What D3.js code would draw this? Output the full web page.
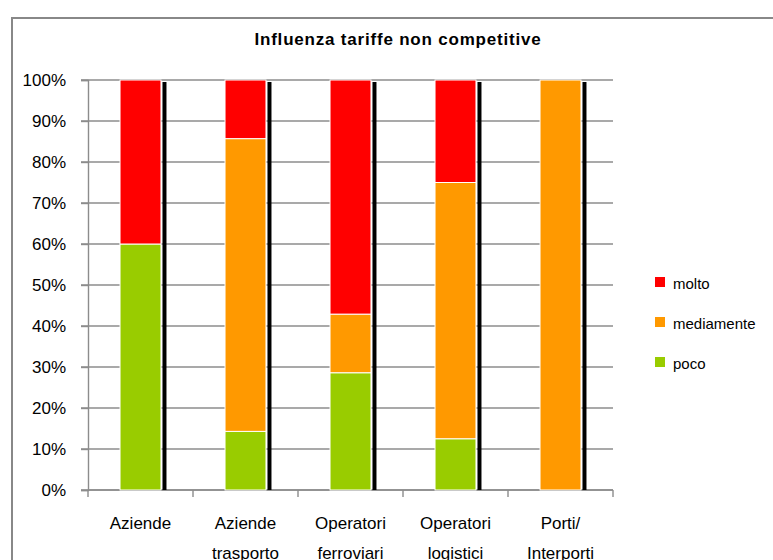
<!DOCTYPE html>
<html>
<head>
<meta charset="utf-8">
<script src="https://cdn.jsdelivr.net/npm/d3@7"></script>
<style>
  body { margin: 0; background: #fff; }
  text { font-family: "Liberation Sans", Arial, sans-serif; fill: #000; }
</style>
</head>
<body>
<div id="container"></div>
<script>
// data
var categories = [["Aziende"], ["Aziende", "trasporto"], ["Operatori", "ferroviari"], ["Operatori", "logistici"], ["Porti/", "Interporti"]];
var seriesNames = ["poco", "mediamente", "molto"];
var poco = [60, 14.3, 28.6, 12.5, 0];
var mediamente = [0, 71.4, 14.3, 62.5, 100];
var molto = [40, 14.3, 57.1, 25, 0];
var colors = ["#99cc00", "#ff9900", "#ff0000"];
var yTicks = [0, 10, 20, 30, 40, 50, 60, 70, 80, 90, 100];

var W = 773, H = 560;
var svg = d3.select("#container").append("svg")
	.attr("width", W)
	.attr("height", H);

// outer frame
svg.append("rect")
	.attr("x", 12).attr("y", 18)
	.attr("width", 800).attr("height", 600)
	.attr("fill", "none")
	.attr("stroke", "#888")
	.attr("stroke-width", 2);

// title
svg.append("text")
	.attr("x", 398).attr("y", 45)
	.attr("text-anchor", "middle")
	.style("font-size", "17px")
	.style("font-weight", "bold")
	.style("letter-spacing", "0.8px")
	.text("Influenza tariffe non competitive");

// scales
var x = d3.scaleBand()
	.domain(d3.range(categories.length))
	.range([88, 613]);

var y = d3.scaleLinear()
	.domain([0, 100])
	.range([490, 80]);

// gridlines
svg.append("g")
	.selectAll("line")
	.data(yTicks)
	.enter().append("line")
	.attr("x1", 81).attr("x2", 613)
	.attr("y1", function(d) { return y(d); })
	.attr("y2", function(d) { return y(d); })
	.attr("stroke", "#8c8c8c")
	.attr("stroke-width", 1.4);

// y axis
var yAxis = svg.append("g")
	.attr("transform", "translate(88,0)")
	.call(d3.axisLeft(y).tickValues(yTicks).tickSize(7).tickPadding(15)
		.tickFormat(function(d) { return d + "%"; }));
yAxis.select(".domain").attr("stroke", "#8c8c8c").attr("stroke-width", 1.4);
yAxis.selectAll(".tick line").attr("stroke", "#8c8c8c").attr("stroke-width", 1.4);
yAxis.selectAll("text")
	.style("font-size", "17px")
	.style("font-family", "'Liberation Sans', Arial, sans-serif");

// x axis
var xTickPos = d3.range(categories.length + 1).map(function(i) { return 88 + i * x.step(); });
var xAxis = svg.append("g");
xAxis.append("line")
	.attr("x1", 88).attr("x2", 613)
	.attr("y1", y(0)).attr("y2", y(0))
	.attr("stroke", "#8c8c8c").attr("stroke-width", 1.4);
xAxis.selectAll(".xt")
	.data(xTickPos)
	.enter().append("line")
	.attr("class", "xt")
	.attr("x1", function(d) { return d; })
	.attr("x2", function(d) { return d; })
	.attr("y1", y(0)).attr("y2", y(0) + 7)
	.attr("stroke", "#8c8c8c").attr("stroke-width", 1.4);

// category labels
var labels = svg.append("g").selectAll("text")
	.data(categories)
	.enter().append("text")
	.attr("x", function(d, i) { return x(i) + x.bandwidth() / 2; })
	.attr("y", 529)
	.attr("text-anchor", "middle")
	.style("font-size", "17px");
labels.selectAll("tspan")
	.data(function(d) { return d; })
	.enter().append("tspan")
	.attr("x", function() { return d3.select(this.parentNode).attr("x"); })
	.attr("dy", function(d, i) { return i === 0 ? 0 : 30; })
	.text(function(d) { return d; });

// stacked data
var table = categories.map(function(c, i) {
	return { i: i, poco: poco[i], mediamente: mediamente[i], molto: molto[i] };
});
var stack = d3.stack().keys(seriesNames)(table);

var barW = x.bandwidth() * 0.39;
function barX(i) { return x(i) + (x.bandwidth() - barW) / 2; }

// shadows
svg.append("g").selectAll("rect")
	.data(table)
	.enter().append("rect")
	.attr("x", function(d) { return barX(d.i) + barW + 1.5; })
	.attr("y", function(d) { return y(100) + 2; })
	.attr("width", 4)
	.attr("height", function(d) { return y(0) - y(100) - 2; })
	.attr("fill", "#000");

// bars
svg.append("g").selectAll("g")
	.data(stack)
	.enter().append("g")
	.attr("fill", function(d, k) { return colors[k]; })
	.selectAll("rect")
	.data(function(d) { return d.filter(function(s) { return s[1] - s[0] > 0; }); })
	.enter().append("rect")
	.attr("x", function(d) { return barX(d.data.i); })
	.attr("y", function(d) { return y(d[1]); })
	.attr("width", barW)
	.attr("height", function(d) { return y(d[0]) - y(d[1]); })
	.attr("stroke", "#fff")
	.attr("stroke-width", 1);

// legend
var legendOrder = [2, 1, 0];
var legend = svg.append("g").selectAll("g")
	.data(legendOrder)
	.enter().append("g")
	.attr("transform", function(d, j) { return "translate(655," + (277 + j * 40) + ")"; });
legend.append("rect")
	.attr("width", 10).attr("height", 10)
	.attr("fill", function(k) { return colors[k]; });
legend.append("text")
	.attr("x", 18).attr("y", 12)
	.style("font-size", "15px")
	.text(function(k) { return seriesNames[k]; });
</script>
</body>
</html>
